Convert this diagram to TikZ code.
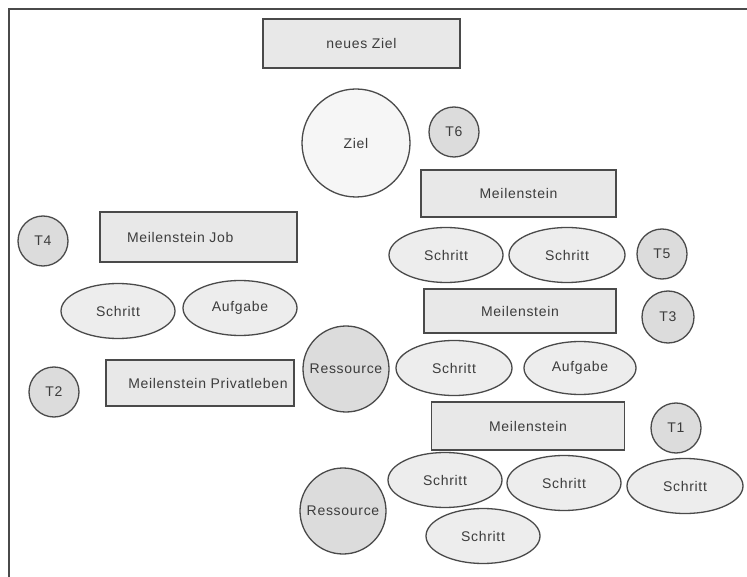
\documentclass[tikz,border=0pt]{standalone}
\usepackage{fontspec}
\setmainfont{Liberation Sans}
\newfontfamily\lblfont[LetterSpace=5]{Liberation Sans}
\usetikzlibrary{shapes.geometric}
\definecolor{linegray}{HTML}{4A4A4A}
\definecolor{txtgray}{HTML}{3C3C3C}
\definecolor{boxfill}{HTML}{E8E8E8}
\definecolor{ellfill}{HTML}{EDEDED}
\definecolor{zielfill}{HTML}{F6F6F6}
\definecolor{tfill}{HTML}{DCDCDC}

\begin{document}
\begin{tikzpicture}[x=1pt,y=-1pt,
    every node/.style={font=\lblfont\fontsize{14}{16}\selectfont, text=txtgray,
        draw=linegray, line width=1.3pt, inner sep=0pt},
    msbox/.style={rectangle, fill=boxfill},
    stell/.style={ellipse, fill=ellfill, minimum width=114pt, minimum height=55pt},
    tcirc/.style={circle, fill=tfill, minimum size=50pt},
    rescirc/.style={circle, fill=tfill, minimum size=86pt}]
    \useasboundingbox (0,0) rectangle (747,577);
    \draw [linegray, line width=1.5pt] (9,577) -- (9,9) -- (747,9);
    % Ziel
    \node[msbox, minimum width=197pt, minimum height=49pt] (neu) at (361.5,43.5) {neues Ziel};
    \node[circle, fill=zielfill, minimum size=108pt] (ziel) at (356,143) {Ziel};
    \node[tcirc] (t6) at (454,132) {T6};
    % Meilenstein 3
    \node[msbox, minimum width=195pt, minimum height=47pt] (m3) at (518.5,193.5) {Meilenstein};
    \node[stell] (s3a) at (446,255) {Schritt};
    \node[stell, minimum width=116pt] (s3b) at (567,255) {Schritt};
    \node[tcirc] (t5) at (662,254) {T5};
    % Job
    \node[msbox, minimum height=50pt, text width=143pt, inner xsep=27pt, align=left] (mjob) at (198.5,237) {Meilenstein Job};
    \node[tcirc] (t4) at (43,241) {T4};
    \node[stell] (sjob) at (118,311) {Schritt};
    \node[stell] (ajob) at (240,308) {Aufgabe};
    % Meilenstein 2
    \node[msbox, minimum width=192pt, minimum height=44pt] (m2) at (520,311) {Meilenstein};
    \node[tcirc, minimum size=52pt] (t3) at (668,317) {T3};
    \node[stell, minimum width=116pt] (s2) at (454,368) {Schritt};
    \node[stell, minimum width=112pt, minimum height=53pt] (a2) at (580,368) {Aufgabe};
    \node[rescirc] (res2) at (346,369) {Ressource};
    % Privatleben
    \node[msbox, minimum width=188pt, minimum height=46pt, xshift=0pt] (mpriv) at (200,383) {\hspace*{12pt}Meilenstein Privatleben\hspace*{-4pt}};
    \node[tcirc] (t2) at (54,392) {T2};
    % Meilenstein 1
    \node[msbox, minimum width=193pt, minimum height=48pt] (m1) at (528,426) {Meilenstein};
    \node[tcirc] (t1) at (676,428) {T1};
    \node[stell] (s1a) at (445,480) {Schritt};
    \node[stell] (s1b) at (564,483) {Schritt};
    \node[stell, minimum width=116pt] (s1c) at (685,486) {Schritt};
    \node[stell] (s1d) at (483,536) {Schritt};
    \node[rescirc] (res1) at (343,511) {Ressource};
\end{tikzpicture}
\end{document}
